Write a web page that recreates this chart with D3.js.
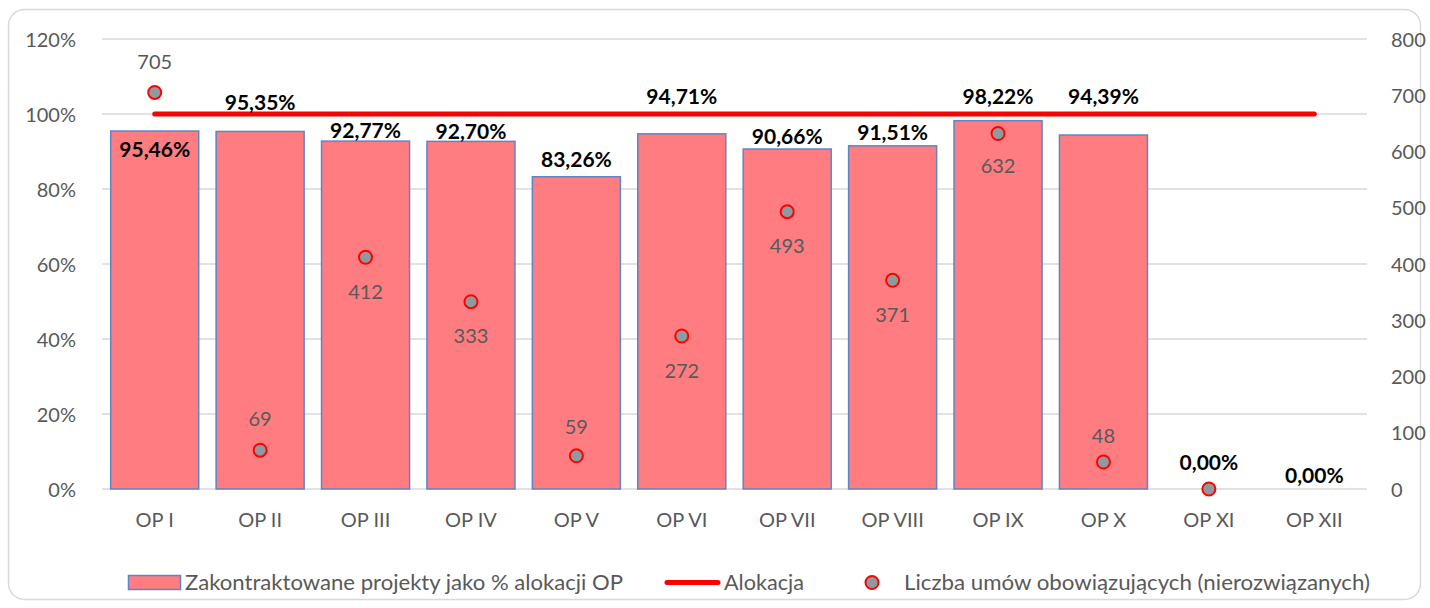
<!DOCTYPE html>
<html>
<head>
<meta charset="utf-8">
<script src="https://cdn.jsdelivr.net/npm/d3@7/dist/d3.min.js"></script>
<style>
  body { margin: 0; background: #fff; }
  text { font-family: Lato, "Noto Sans", sans-serif; }
</style>
</head>
<body>
<div id="chart"></div>
<script>
// data
const categories = ["OP I", "OP II", "OP III", "OP IV", "OP V", "OP VI", "OP VII", "OP VIII", "OP IX", "OP X", "OP XI", "OP XII"];
const contractedPct = [95.46, 95.35, 92.77, 92.70, 83.26, 94.71, 90.66, 91.51, 98.22, 94.39, 0, 0];
const allocation = [100, 100, 100, 100, 100, 100, 100, 100, 100, 100, 100, 100];
const contracts = [705, 69, 412, 333, 59, 272, 493, 371, 632, 48, 0, null];
const leftTicks = [0, 20, 40, 60, 80, 100, 120];
const rightTicks = [0, 100, 200, 300, 400, 500, 600, 700, 800];

// label placement (pixel offsets, as placed by hand in the source chart)
const pctLabelDy = [19, -29, -10, -10, -17, -37, -12, -13, -24, -38, -26, -13];
const countLabelDy = [-30, -31, 35, 34, -29, 35, 34, 35, 32, -26, null, null];

const width = 1430, height = 608;
const margin = { left: 102, right: 63, top: 39, bottom: 119 };
const plotRight = width - margin.right;
const plotBottom = height - margin.bottom;

const svg = d3.select("#chart").append("svg")
  .attr("width", width)
  .attr("height", height);

svg.append("rect")
  .attr("x", 8.5).attr("y", 9.5)
  .attr("width", width - 18).attr("height", height - 18)
  .attr("rx", 16)
  .attr("fill", "#fff")
  .attr("stroke", "#d9d9d9")
  .attr("stroke-width", 1.5);

const x = d3.scaleBand()
  .domain(categories)
  .range([margin.left, plotRight])
  .paddingInner(0.165)
  .paddingOuter(0.0825);

const yLeft = d3.scaleLinear().domain([0, 120]).range([plotBottom, margin.top]);
const yRight = d3.scaleLinear().domain([0, 800]).range([plotBottom, margin.top]);

// gridlines
svg.append("g")
  .selectAll("line")
  .data(leftTicks)
  .join("line")
  .attr("x1", margin.left).attr("x2", plotRight)
  .attr("y1", d => yLeft(d)).attr("y2", d => yLeft(d))
  .attr("stroke", "#d9d9d9")
  .attr("stroke-width", 1.5);

// left axis
const leftAxis = svg.append("g")
  .attr("transform", `translate(${margin.left - 23}, 0)`)
  .call(d3.axisLeft(yLeft).tickValues(leftTicks).tickSize(0).tickFormat(d => d + "%"));
leftAxis.select(".domain").remove();
leftAxis.selectAll("text")
  .attr("fill", "#595959")
  .style("font-size", "20px")
  .attr("dy", "0.35em");

// right axis
const rightAxis = svg.append("g")
  .attr("transform", `translate(${plotRight + 21}, 0)`)
  .call(d3.axisRight(yRight).tickValues(rightTicks).tickSize(0));
rightAxis.select(".domain").remove();
rightAxis.selectAll("text")
  .attr("fill", "#595959")
  .style("font-size", "20px")
  .attr("dy", "0.35em");

// category axis
const bottomAxis = svg.append("g")
  .attr("transform", `translate(0, ${plotBottom})`)
  .call(d3.axisBottom(x).tickSize(0));
bottomAxis.select(".domain").remove();
bottomAxis.selectAll("text")
  .attr("fill", "#595959")
  .style("font-size", "20px")
  .attr("y", 31)
  .attr("dy", "0.35em");

// bars
svg.append("g")
  .selectAll("rect")
  .data(contractedPct.map((v, i) => ({ cat: categories[i], v })).filter(d => d.v > 0))
  .join("rect")
  .attr("x", d => x(d.cat))
  .attr("y", d => yLeft(d.v))
  .attr("width", x.bandwidth())
  .attr("height", d => yLeft(0) - yLeft(d.v))
  .attr("fill", "#ff7c80")
  .attr("stroke", "#5b86c8")
  .attr("stroke-width", 1.5);

// allocation line
const line = d3.line()
  .x((d, i) => x(categories[i]) + x.bandwidth() / 2)
  .y(d => yLeft(d));
svg.append("path")
  .datum(allocation)
  .attr("d", line)
  .attr("fill", "none")
  .attr("stroke", "#ff0000")
  .attr("stroke-width", 5)
  .attr("stroke-linecap", "round");

// bar value labels
svg.append("g")
  .selectAll("text")
  .data(contractedPct.map((v, i) => ({ cat: categories[i], v, dy: pctLabelDy[i] })))
  .join("text")
  .attr("x", d => x(d.cat) + x.bandwidth() / 2)
  .attr("y", d => yLeft(d.v) + d.dy)
  .attr("dy", "0.35em")
  .attr("text-anchor", "middle")
  .style("font-size", "21px")
  .style("font-weight", "bold")
  .attr("fill", "#000")
  .text(d => d.v.toFixed(2).replace(".", ",") + "%");

// contract count points
const pts = contracts.map((v, i) => ({ cat: categories[i], v, dy: countLabelDy[i] }))
  .filter(d => d.v !== null);

svg.append("g")
  .selectAll("circle")
  .data(pts)
  .join("circle")
  .attr("cx", d => x(d.cat) + x.bandwidth() / 2)
  .attr("cy", d => yRight(d.v))
  .attr("r", 6.5)
  .attr("fill", "#8e9a9e")
  .attr("stroke", "#ff0000")
  .attr("stroke-width", 2);

svg.append("g")
  .selectAll("text")
  .data(pts.filter(d => d.dy !== null))
  .join("text")
  .attr("x", d => x(d.cat) + x.bandwidth() / 2)
  .attr("y", d => yRight(d.v) + d.dy)
  .attr("dy", "0.35em")
  .attr("text-anchor", "middle")
  .style("font-size", "20px")
  .attr("fill", "#595959")
  .text(d => d.v);

// legend
const legend = svg.append("g").attr("transform", "translate(0, 582.5)");
legend.append("rect")
  .attr("x", 128.5).attr("y", -7)
  .attr("width", 52).attr("height", 14)
  .attr("fill", "#ff7c80")
  .attr("stroke", "#5b86c8")
  .attr("stroke-width", 1.5);
legend.append("text")
  .attr("x", 185).attr("y", 0).attr("dy", "0.35em")
  .attr("textLength", 438).attr("lengthAdjust", "spacingAndGlyphs")
  .style("font-size", "21px").attr("fill", "#595959")
  .text("Zakontraktowane projekty jako % alokacji OP");
legend.append("line")
  .attr("x1", 667).attr("x2", 718)
  .attr("y1", 0).attr("y2", 0)
  .attr("stroke", "#ff0000")
  .attr("stroke-width", 5)
  .attr("stroke-linecap", "round");
legend.append("text")
  .attr("x", 724).attr("y", 0).attr("dy", "0.35em")
  .attr("textLength", 80).attr("lengthAdjust", "spacingAndGlyphs")
  .style("font-size", "21px").attr("fill", "#595959")
  .text("Alokacja");
legend.append("circle")
  .attr("cx", 872).attr("cy", 0).attr("r", 6.5)
  .attr("fill", "#8e9a9e")
  .attr("stroke", "#ff0000")
  .attr("stroke-width", 2);
legend.append("text")
  .attr("x", 904).attr("y", 0).attr("dy", "0.35em")
  .attr("textLength", 466).attr("lengthAdjust", "spacingAndGlyphs")
  .style("font-size", "21px").attr("fill", "#595959")
  .text("Liczba umów obowiązujących (nierozwiązanych)");
</script>
</body>
</html>
